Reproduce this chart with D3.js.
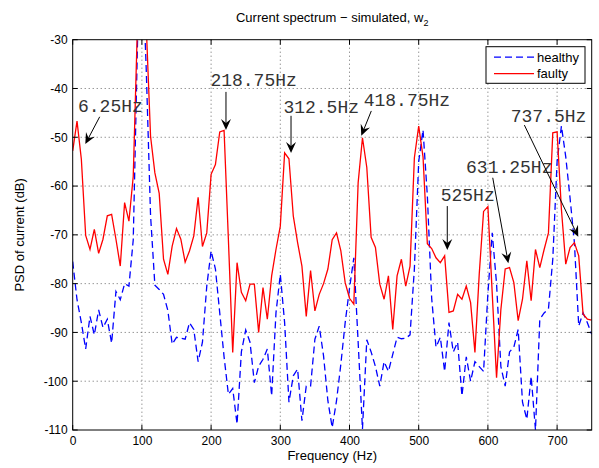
<!DOCTYPE html>
<html>
<head>
<meta charset="utf-8">
<script src="https://cdn.jsdelivr.net/npm/d3@7"></script>
<style>
  body { margin: 0; background: #fff; }
  svg { display: block; }
</style>
</head>
<body>
<div id="chart"></div>
<script>
// frequency bins are every 6.25 Hz, 0 .. 750 Hz
const binWidth = 6.25;

const faulty = [
  -52.8, -46.7, -54.5, -70.1, -73, -68.9, -73.8, -70.9, -66.1, -65.8,
  -70.9, -76.4, -63.4, -67.2, -58, -26, -14, -27, -49.8, -57.3,
  -61.5, -75, -78.1, -72.3, -68.7, -70.9, -75.6, -73.3, -70.2, -62.3,
  -72.4, -69.6, -57.6, -55.6, -48.9, -48.6, -71, -94.1, -75.7, -81.8,
  -83.5, -80.1, -80.1, -90, -80.8, -87.3, -78.4, -73, -68.2, -53.2,
  -54.4, -66.1, -71.6, -76.4, -86.7, -77.3, -85.6, -82.2, -80, -77,
  -71, -69.6, -73.3, -79.8, -83, -84.2, -59.3, -50.1, -56.2, -70.5,
  -72.6, -80.1, -83.2, -78.4, -89.4, -78.4, -75, -80.5, -76.4, -54.2,
  -47.7, -54, -71.8, -72.8, -74.7, -75.7, -74.3, -85.9, -85.6, -82.2,
  -83.2, -80.5, -83.9, -94.1, -78, -65.2, -64.2, -82, -99.3, -85.3,
  -77, -76.7, -79.8, -87.6, -83.2, -75.3, -83.5, -73, -76.7, -73,
  -69.6, -49.1, -48.9, -64.8, -76, -72.6, -71.6, -74.3, -86.2, -87.3,
  -87.5
];

const healthy = [
  -75.5, -83.3, -88, -93.4, -86.7, -90.5, -85.4, -89, -87.3, -92.2,
  -81.6, -83.3, -80, -80.5, -71, -30, -12, -36, -66, -80.3,
  -81.2, -82.2, -85.5, -92.4, -91, -91.2, -91.4, -88, -89.4, -96,
  -92, -80.5, -73.3, -77, -86, -95, -102.7, -101.5, -108.8, -94,
  -89.5, -92, -100.3, -96.9, -95.5, -93.4, -103, -86, -78.1, -88,
  -104.3, -98.9, -97.5, -108.1, -101, -101, -91.4, -88.7, -94.8, -104,
  -109.5, -104, -96.5, -88, -81, -74.7, -92, -109.8, -91.5, -94,
  -97, -101, -96, -98, -94.5, -91, -91.3, -91.2, -90.5, -77,
  -55, -48.5, -62, -83, -93, -91, -98, -88, -94, -92,
  -103, -95, -100, -96, -97, -98, -82, -69.6, -80, -97,
  -101, -94, -93, -89.4, -104.3, -107.8, -99, -110, -87.3, -86,
  -85.2, -75, -55, -47.7, -54, -62.5, -71.6, -88.7, -86, -88,
  -90.4
];

const xTicks = [0, 100, 200, 300, 400, 500, 600, 700];
const yTicks = [-110, -100, -90, -80, -70, -60, -50, -40, -30];

// annotations: label, text start (Hz, dB), arrow tail and head (Hz, dB)
const notes = [
  { label: "6.25Hz",   tx: 7.7,   ty: -44.8, ax0: 39,    ay0: -45.8, ax1: 18.2,  ay1: -51.4 },
  { label: "218.75Hz", tx: 199,   ty: -39.5, ax0: 221.5, ay0: -40.7, ax1: 221.5, ay1: -48.5 },
  { label: "312.5Hz",  tx: 304.5, ty: -45,   ax0: 315.5, ay0: -45.6, ax1: 315.5, ay1: -53.2 },
  { label: "418.75Hz", tx: 420.5, ty: -43.6, ax0: 431.5, ay0: -44.6, ax1: 417,   ay1: -49.7 },
  { label: "525Hz",    tx: 531.8, ty: -63,   ax0: 541.3, ay0: -64.1, ax1: 541.3, ay1: -73.1 },
  { label: "631.25Hz", tx: 568.4, ty: -57.3, ax0: 607,   ay0: -58.3, ax1: 629.5, ay1: -75.8 },
  { label: "737.5Hz",  tx: 633,   ty: -46.9, ax0: 652.7, ay0: -47.5, ax1: 730.6, ay1: -70.4 }
];

const width = 599, height = 468;
const margin = { top: 39.7, right: 7.3, bottom: 38, left: 72.7 };

const svg = d3.select("#chart").append("svg")
  .attr("width", width)
  .attr("height", height)
  .style("font-family", "'Liberation Sans', Arial, sans-serif");

const x = d3.scaleLinear().domain([0, 750]).range([margin.left, width - margin.right]);
const y = d3.scaleLinear().domain([-110, -30]).range([height - margin.bottom, margin.top]);

const x0 = x.range()[0], x1 = x.range()[1];
const y0 = y.range()[1], y1 = y.range()[0];

// grid
const grid = svg.append("g")
  .attr("stroke", "#444")
  .attr("stroke-width", 0.8)
  .attr("stroke-dasharray", "1,3");
xTicks.slice(1).forEach(t => {
  grid.append("line").attr("x1", x(t)).attr("x2", x(t)).attr("y1", y0).attr("y2", y1);
});
yTicks.slice(1, -1).forEach(t => {
  grid.append("line").attr("x1", x0).attr("x2", x1).attr("y1", y(t)).attr("y2", y(t));
});

svg.append("clipPath").attr("id", "plotclip")
  .append("rect")
  .attr("x", x0).attr("y", y0)
  .attr("width", x1 - x0).attr("height", y1 - y0);

const line = d3.line()
  .x((d, i) => x(i * binWidth))
  .y(d => y(d));

const plot = svg.append("g").attr("clip-path", "url(#plotclip)");

plot.append("path")
  .datum(healthy)
  .attr("fill", "none")
  .attr("stroke", "#0000ff")
  .attr("stroke-width", 1.3)
  .attr("stroke-dasharray", "7,4")
  .attr("d", line);

plot.append("path")
  .datum(faulty)
  .attr("fill", "none")
  .attr("stroke", "#ff0000")
  .attr("stroke-width", 1.3)
  .attr("d", line);

// axes (ticks inside, box all round)
const tickLen = 5;
const axisBottom = d3.axisBottom(x).tickValues(xTicks).tickSize(0).tickPadding(6).tickFormat(d => d);
const axisLeft = d3.axisLeft(y).tickValues(yTicks).tickSize(0).tickPadding(5).tickFormat(d => d);

const gx = svg.append("g").attr("transform", `translate(0,${y1})`).call(axisBottom);
const gy = svg.append("g").attr("transform", `translate(${x0},0)`).call(axisLeft);
[gx, gy].forEach(g => {
  g.select(".domain").remove();
  g.selectAll("text").attr("font-size", 12).attr("fill", "#000")
    .style("font-family", "'Liberation Sans', Arial, sans-serif");
});

const ticks = svg.append("g").attr("stroke", "#000").attr("stroke-width", 1);
xTicks.forEach(t => {
  ticks.append("line").attr("x1", x(t)).attr("x2", x(t)).attr("y1", y1).attr("y2", y1 - tickLen);
  ticks.append("line").attr("x1", x(t)).attr("x2", x(t)).attr("y1", y0).attr("y2", y0 + tickLen);
});
yTicks.forEach(t => {
  ticks.append("line").attr("x1", x0).attr("x2", x0 + tickLen).attr("y1", y(t)).attr("y2", y(t));
  ticks.append("line").attr("x1", x1).attr("x2", x1 - tickLen).attr("y1", y(t)).attr("y2", y(t));
});

svg.append("rect")
  .attr("x", x0).attr("y", y0)
  .attr("width", x1 - x0).attr("height", y1 - y0)
  .attr("fill", "none")
  .attr("stroke", "#000")
  .attr("stroke-width", 1);

// labels
svg.append("text")
  .attr("x", (x0 + x1) / 2).attr("y", 460)
  .attr("text-anchor", "middle")
  .attr("font-size", 13)
  .text("Frequency (Hz)");

svg.append("text")
  .attr("transform", `translate(24,${(y0 + y1) / 2}) rotate(-90)`)
  .attr("text-anchor", "middle")
  .attr("font-size", 13)
  .text("PSD of current (dB)");

const title = svg.append("text")
  .attr("x", (x0 + x1) / 2).attr("y", 22)
  .attr("text-anchor", "middle")
  .attr("font-size", 13);
title.append("tspan").text("Current spectrum \u2212 simulated, w");
title.append("tspan").attr("font-size", 9).attr("dy", 4).text("2");

// annotations
const ann = svg.append("g");
notes.forEach(n => {
  ann.append("text")
    .attr("x", x(n.tx)).attr("y", y(n.ty))
    .attr("font-size", 18)
    .attr("fill", "#333")
    .style("font-family", "'Liberation Mono', 'Courier New', monospace")
    .text(n.label);

  const px0 = x(n.ax0), py0 = y(n.ay0), px1 = x(n.ax1), py1 = y(n.ay1);
  const dx = px1 - px0, dy = py1 - py0;
  const len = Math.hypot(dx, dy);
  const ux = dx / len, uy = dy / len;
  const nx = -uy, ny = ux;
  const hl = 11, hw = 5, notch = 7;
  ann.append("line")
    .attr("x1", px0).attr("y1", py0)
    .attr("x2", px1 - ux * notch).attr("y2", py1 - uy * notch)
    .attr("stroke", "#000").attr("stroke-width", 1);
  const pts = [
    [px1, py1],
    [px1 - ux * hl + nx * hw, py1 - uy * hl + ny * hw],
    [px1 - ux * notch, py1 - uy * notch],
    [px1 - ux * hl - nx * hw, py1 - uy * hl - ny * hw]
  ];
  ann.append("path")
    .attr("d", "M" + pts.map(p => p.join(",")).join("L") + "Z")
    .attr("fill", "#000");
});

// legend
const lg = svg.append("g");
const lgx = 486, lgy = 46.7;
lg.append("rect")
  .attr("x", lgx).attr("y", lgy)
  .attr("width", 99).attr("height", 36.6)
  .attr("fill", "#fff")
  .attr("stroke", "#000")
  .attr("stroke-width", 1);
const entries = [
  { name: "healthy", color: "#0000ff", dash: "7,4" },
  { name: "faulty", color: "#ff0000", dash: null }
];
entries.forEach((e, i) => {
  const cy = lgy + 10.5 + i * 16.5;
  lg.append("line")
    .attr("x1", lgx + 8).attr("x2", lgx + 48)
    .attr("y1", cy).attr("y2", cy)
    .attr("stroke", e.color)
    .attr("stroke-width", 1.3)
    .attr("stroke-dasharray", e.dash);
  lg.append("text")
    .attr("x", lgx + 51).attr("y", cy + 4.5)
    .attr("font-size", 13)
    .text(e.name);
});
</script>
</body>
</html>
